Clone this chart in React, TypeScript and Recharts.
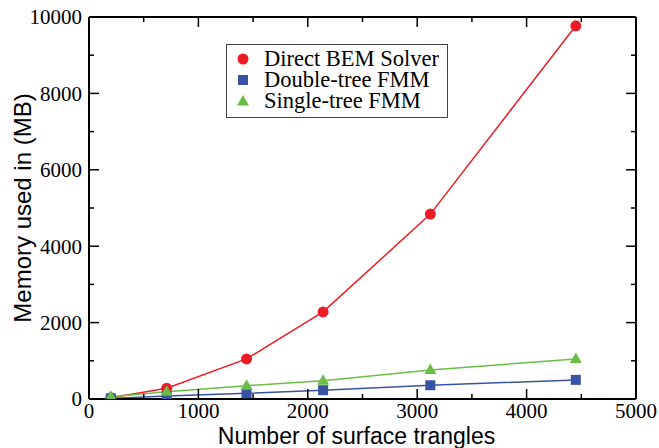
import React from 'react';
import { LineChart, Line, XAxis, YAxis, Legend } from 'recharts';

const triangles = [200, 710, 1440, 2140, 3120, 4450];
const directBEM = [30, 280, 1050, 2280, 4840, 9770];
const doubleTree = [15, 80, 150, 230, 360, 500];
const singleTree = [60, 190, 350, 480, 760, 1050];

const xTicks = [0, 500, 1000, 1500, 2000, 2500, 3000, 3500, 4000, 4500, 5000];
const yTicks = [0, 1000, 2000, 3000, 4000, 5000, 6000, 7000, 8000, 9000, 10000];

const RED = '#ed1c24';
const BLUE = '#3953a4';
const GREEN = '#6abd45';

const SERIF = '"Liberation Serif", "Times New Roman", serif';
const SANS = '"Liberation Sans", Arial, sans-serif';

const data = triangles.map((n, i) => ({
  n,
  direct: directBEM[i],
  double: doubleTree[i],
  single: singleTree[i],
}));

const isMajorX = (v: number) => v % 1000 === 0;
const isMajorY = (v: number) => v % 2000 === 0;

const BottomTick = (p: any) => {
  const { x, y, payload } = p;
  const v = payload.value;
  const major = isMajorX(v);
  return (
    <g>
      <line x1={x} x2={x} y1={y} y2={y - (major ? 10 : 5)} stroke="#000" strokeWidth={1.5} />
      {major && (
        <text x={x} y={y + 19} textAnchor="middle" fontFamily={SERIF} fontSize={21} fill="#000">
          {v}
        </text>
      )}
    </g>
  );
};

const TopTick = (p: any) => {
  const { x, y, payload } = p;
  const major = isMajorX(payload.value);
  return <line x1={x} x2={x} y1={y} y2={y + (major ? 10 : 5)} stroke="#000" strokeWidth={1.5} />;
};

const LeftTick = (p: any) => {
  const { x, y, payload } = p;
  const v = payload.value;
  const major = isMajorY(v);
  return (
    <g>
      <line x1={x} x2={x + (major ? 10 : 5)} y1={y} y2={y} stroke="#000" strokeWidth={1.5} />
      {major && (
        <text x={x - 7} y={y} dy="0.35em" textAnchor="end" fontFamily={SERIF} fontSize={21} fill="#000">
          {v}
        </text>
      )}
    </g>
  );
};

const RightTick = (p: any) => {
  const { x, y, payload } = p;
  const major = isMajorY(payload.value);
  return <line x1={x} x2={x - (major ? 10 : 5)} y1={y} y2={y} stroke="#000" strokeWidth={1.5} />;
};

const CircleDot = (p: any) => (
  <circle key={`c-${p.index}`} cx={p.cx} cy={p.cy} r={5.5} fill={RED} />
);
const SquareDot = (p: any) => (
  <rect key={`s-${p.index}`} x={p.cx - 5} y={p.cy - 5} width={10} height={10} fill={BLUE} />
);
const TriDot = (p: any) => (
  <polygon
    key={`t-${p.index}`}
    points={`${p.cx},${p.cy - 6.5} ${p.cx + 6},${p.cy + 4} ${p.cx - 6},${p.cy + 4}`}
    fill={GREEN}
  />
);

const legendItems = [
  { label: 'Direct BEM Solver', kind: 'circle' },
  { label: 'Double-tree FMM', kind: 'square' },
  { label: 'Single-tree FMM', kind: 'tri' },
];

const LegendMarker = ({ kind }: { kind: string }) => (
  <svg width={14} height={14} style={{ display: 'block', marginRight: 14, flex: 'none' }}>
    {kind === 'circle' && <circle cx={7} cy={7} r={5.5} fill={RED} />}
    {kind === 'square' && <rect x={2} y={2} width={10} height={10} fill={BLUE} />}
    {kind === 'tri' && <polygon points="7,1 13,11.5 1,11.5" fill={GREEN} />}
  </svg>
);

const LegendBox = () => (
  <div
    style={{
      width: 222,
      boxSizing: 'border-box',
      border: '1px solid #444',
      background: '#fff',
      padding: '3px 8px 6px 9px',
      fontFamily: SERIF,
      fontSize: 22.5,
      color: '#000',
    }}
  >
    {legendItems.map((it) => (
      <div key={it.label} style={{ display: 'flex', alignItems: 'center', height: 21, whiteSpace: 'nowrap' }}>
        <LegendMarker kind={it.kind} />
        <div style={{ lineHeight: '21px', height: 21, overflow: 'visible' }}>{it.label}</div>
      </div>
    ))}
  </div>
);

export default function App() {
  return (
    <div style={{ position: 'absolute', left: 0, top: 0, width: 659, height: 448, background: '#fff' }}>
      <LineChart width={659} height={448} data={data} margin={{ top: 16, right: 22, bottom: 0, left: 0 }}>
        <XAxis
          xAxisId="b"
          dataKey="n"
          type="number"
          domain={[0, 5000]}
          allowDataOverflow
          ticks={xTicks}
          interval={0}
          height={49}
          tickSize={0}
          tickMargin={0}
          tickLine={false}
          axisLine={{ stroke: '#000', strokeWidth: 2 }}
          tick={BottomTick}
          label={{
            value: 'Number of surface trangles',
            position: 'insideBottom',
            offset: 4,
            dx: -6,
            fontSize: 23,
            fontFamily: SANS,
            fill: '#000',
          }}
        />
        <XAxis
          xAxisId="t"
          orientation="top"
          type="number"
          dataKey="n"
          domain={[0, 5000]}
          allowDataOverflow
          ticks={xTicks}
          interval={0}
          height={1}
          tickSize={0}
          tickMargin={0}
          tickLine={false}
          axisLine={{ stroke: '#000', strokeWidth: 2 }}
          tick={TopTick}
        />
        <YAxis
          yAxisId="l"
          type="number"
          domain={[0, 10000]}
          allowDataOverflow
          ticks={yTicks}
          interval={0}
          width={89}
          tickSize={0}
          tickMargin={0}
          tickLine={false}
          axisLine={{ stroke: '#000', strokeWidth: 2 }}
          tick={LeftTick}
          label={{
            value: 'Memory used in (MB)',
            angle: -90,
            position: 'insideLeft',
            offset: 22,
            fontSize: 24,
            fontFamily: SANS,
            fill: '#000',
            style: { textAnchor: 'middle' },
          }}
        />
        <YAxis
          yAxisId="r"
          orientation="right"
          type="number"
          domain={[0, 10000]}
          allowDataOverflow
          ticks={yTicks}
          interval={0}
          width={1}
          tickSize={0}
          tickMargin={0}
          tickLine={false}
          axisLine={{ stroke: '#000', strokeWidth: 2 }}
          tick={RightTick}
        />
        <Legend
          layout="vertical"
          align="center"
          verticalAlign="middle"
          content={<LegendBox />}
          wrapperStyle={{ left: 226, top: 44, width: 222, height: 74 }}
        />
        <Line
          xAxisId="b"
          yAxisId="l"
          dataKey="direct"
          name="Direct BEM Solver"
          stroke={RED}
          strokeWidth={1.5}
          dot={CircleDot}
          activeDot={false}
          isAnimationActive={false}
        />
        <Line
          xAxisId="t"
          yAxisId="r"
          dataKey="double"
          name="Double-tree FMM"
          stroke={BLUE}
          strokeWidth={1.5}
          dot={SquareDot}
          activeDot={false}
          isAnimationActive={false}
        />
        <Line
          xAxisId="b"
          yAxisId="l"
          dataKey="single"
          name="Single-tree FMM"
          stroke={GREEN}
          strokeWidth={1.5}
          dot={TriDot}
          activeDot={false}
          isAnimationActive={false}
        />
      </LineChart>
    </div>
  );
}
